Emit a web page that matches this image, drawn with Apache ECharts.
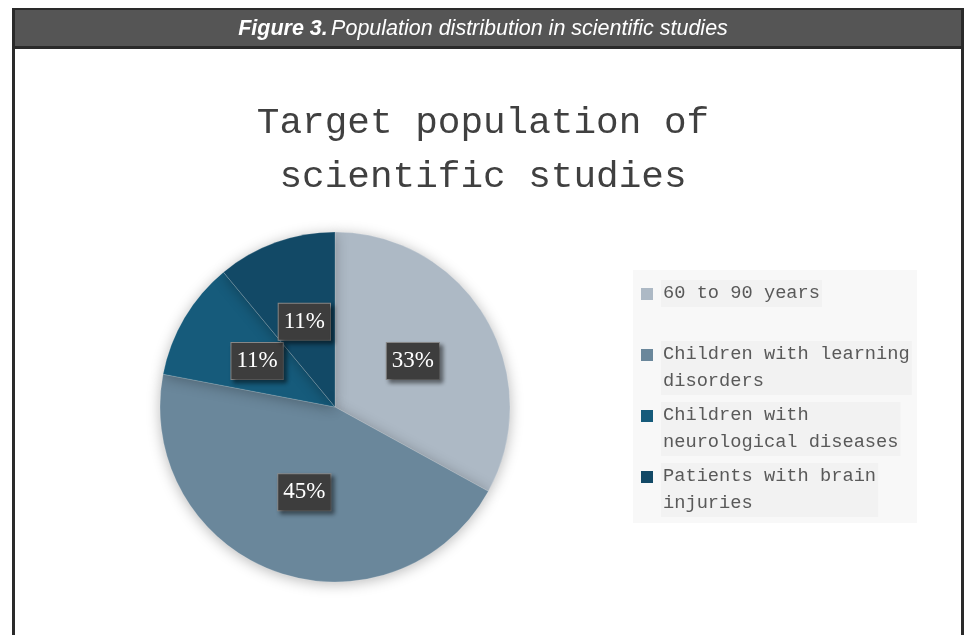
<!DOCTYPE html>
<html>
<head>
<meta charset="utf-8">
<script src="https://cdn.jsdelivr.net/npm/echarts@6/dist/echarts.min.js"></script>
<style>
  html, body { margin: 0; padding: 0; background: #fff; }
  #chart { width: 966px; height: 635px; }
</style>
</head>
<body>
<div id="chart"></div>
<script>
// data
const categories = [
  '60 to 90 years',
  'Children with learning disorders',
  'Children with neurological diseases',
  'Patients with brain injuries'
];
const shares = [33, 45, 11, 11];
const legendLabels = [
  '60 to 90 years',
  'Children with learning\ndisorders',
  'Children with\nneurological diseases',
  'Patients with brain\ninjuries'
];
const sliceColors = ['#adb9c5', '#6a879b', '#165b7b', '#124966'];

const chart = echarts.init(document.getElementById('chart'));

const monoFont = "'Liberation Mono', 'DejaVu Sans Mono', monospace";
// icon path: square on the first text line, box stretched to the item height
const tallIcon = 'path://M0,0H15 M0,8H12V20H0Z M0,54H15';
const shortIcon = 'path://M0,0H15 M0,8H12V20H0Z M0,27H15';

const legendText = {
  fontFamily: monoFont,
  fontSize: 18.7,
  lineHeight: 27,
  color: '#595959',
  backgroundColor: '#f2f2f2',
  padding: [0, 2, 0, 2]
};

const option = {
  backgroundColor: '#ffffff',
  animation: false,
  title: {
    text: 'Target population of\nscientific studies',
    left: 'center',
    top: 91,
    textStyle: {
      fontFamily: monoFont,
      fontSize: 37.7,
      fontWeight: 'normal',
      lineHeight: 54,
      color: '#404040'
    }
  },
  graphic: [
    // frame sides
    { type: 'rect', shape: { x: 12, y: 8, width: 3, height: 640 }, style: { fill: '#2a2a2a' }, z: 10 },
    { type: 'rect', shape: { x: 961, y: 8, width: 3, height: 640 }, style: { fill: '#2a2a2a' }, z: 10 },
    // header bar
    { type: 'rect', shape: { x: 12, y: 8, width: 952, height: 41 }, style: { fill: '#2a2a2a' }, z: 10 },
    { type: 'rect', shape: { x: 15, y: 10, width: 946, height: 36 }, style: { fill: '#555555' }, z: 11 },
    {
      type: 'text', left: 'center', top: 18, z: 12,
      style: {
        text: '{b|Figure 3.} {i|Population distribution in scientific studies}',
        rich: {
          b: { fontFamily: "'Liberation Sans Narrow', 'Liberation Sans', sans-serif", fontSize: 21.5, fontWeight: 'bold', fontStyle: 'italic', fill: '#fff' },
          i: { fontFamily: "'Liberation Sans Narrow', 'Liberation Sans', sans-serif", fontSize: 21.5, fontStyle: 'italic', fill: '#fff' }
        }
      }
    },
    // legend panel
    { type: 'rect', shape: { x: 633, y: 270, width: 284, height: 253 }, style: { fill: '#f8f8f8' }, z: 0 }
  ],
  legend: [
    {
      orient: 'vertical',
      left: 641,
      top: 280,
      padding: 0,
      itemWidth: 15,
      itemHeight: 27,
      icon: shortIcon,
      itemStyle: { borderWidth: 0 },
      data: categories.slice(0, 1),
      formatter: (name) => legendLabels[categories.indexOf(name)],
      textStyle: legendText,
      selectedMode: false
    },
    {
      orient: 'vertical',
      left: 641,
      top: 341,
      padding: 0,
      itemWidth: 15,
      itemHeight: 54,
      itemGap: 7,
      icon: tallIcon,
      itemStyle: { borderWidth: 0 },
      data: categories.slice(1),
      formatter: (name) => legendLabels[categories.indexOf(name)],
      textStyle: legendText,
      selectedMode: false
    }
  ],
  series: [
    {
      name: 'Target population',
      type: 'pie',
      center: [335, 407],
      radius: 175,
      startAngle: 90,
      clockwise: true,
      percentPrecision: 0,
      itemStyle: {
        borderColor: 'rgba(255,255,255,0.3)',
        borderWidth: 0.6,
        shadowBlur: 14,
        shadowColor: 'rgba(0,0,0,0.28)',
        shadowOffsetY: 2
      },
      label: {
        show: true,
        position: 'inside',
        formatter: '{d}%',
        fontFamily: "'Liberation Serif', 'DejaVu Serif', serif",
        fontSize: 23,
        color: '#ffffff',
        backgroundColor: '#3d3d3d',
        borderColor: '#8a8a8a',
        borderWidth: 1,
        padding: [7, 5, 6, 5],
        shadowColor: 'rgba(0,0,0,0.45)',
        shadowBlur: 4,
        shadowOffsetX: 3,
        shadowOffsetY: 3
      },
      labelLine: { show: false },
      emphasis: { disabled: true },
      data: categories.map((name, i) => ({
        name: name,
        value: shares[i],
        itemStyle: { color: sliceColors[i] }
      }))
    }
  ]
};

chart.setOption(option);
</script>
</body>
</html>
